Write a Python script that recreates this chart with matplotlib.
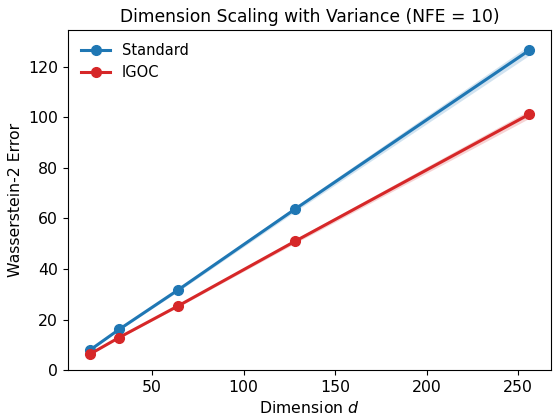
import numpy as np
import matplotlib.pyplot as plt

dims = [16, 32, 64, 128, 256]
std_mean = [7.9, 16.1, 31.6, 63.6, 126.4]
std_sd = [0.2, 0.3, 0.6, 1.0, 2.0]
igoc_mean = [6.3, 12.9, 25.3, 50.9, 101.1]
igoc_sd = [0.15, 0.25, 0.45, 0.8, 1.6]

plt.rcParams['font.size'] = 11.3

fig, ax = plt.subplots(figsize=(5.56, 4.15), dpi=100)

d = np.array(dims)
for mean, sd, color, label in [(std_mean, std_sd, '#1f77b4', 'Standard'),
                               (igoc_mean, igoc_sd, '#d62728', 'IGOC')]:
    m = np.array(mean)
    s = np.array(sd)
    ax.plot(d, m, 'o-', color=color, lw=2.2, ms=7, label=label)
    ax.fill_between(d, m - s, m + s, color=color, alpha=0.2, lw=0)

ax.set_ylim(bottom=0)
ax.set_xlabel('Dimension $d$')
ax.set_ylabel('Wasserstein-2 Error')
ax.set_title('Dimension Scaling with Variance (NFE = 10)', fontsize=12.3)
ax.legend(frameon=False, loc='upper left', fontsize=10.5)

fig.subplots_adjust(left=0.122, right=0.991, top=0.928, bottom=0.108)
fig.savefig('out.png')
